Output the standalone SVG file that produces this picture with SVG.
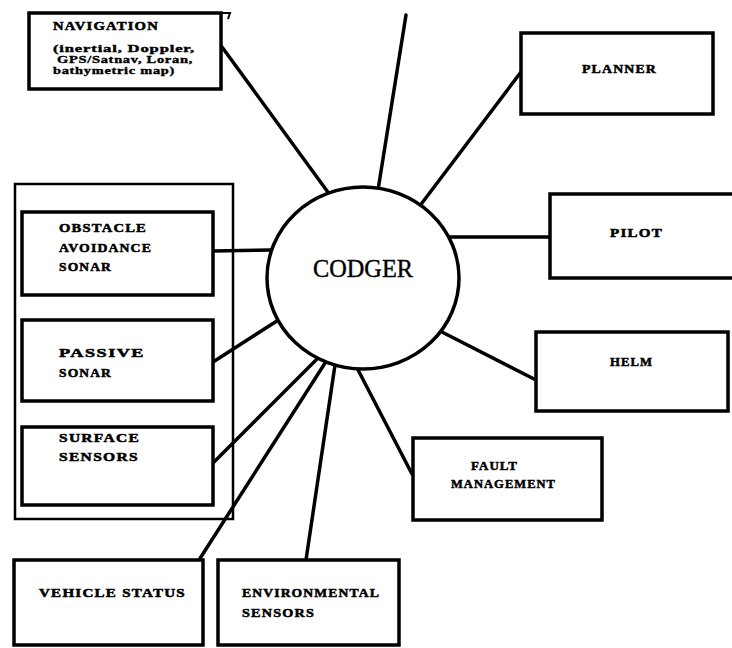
<svg xmlns="http://www.w3.org/2000/svg" width="732" height="648" viewBox="0 0 732 648">
<style>
.box{fill:#fff;stroke:#000;stroke-width:3.5}
.cont{fill:none;stroke:#000;stroke-width:2.5}
.ln{stroke:#000;stroke-width:3.5;fill:none;stroke-linecap:round}
.lbl{font-family:"Liberation Serif","Times New Roman",serif;font-weight:bold;font-size:12px;letter-spacing:1px;fill:#000;stroke:#000;stroke-width:0.5}
.sub{font-family:"Liberation Serif","Times New Roman",serif;font-weight:bold;font-size:10px;letter-spacing:0.5px;fill:#000;stroke:#000;stroke-width:0.35}
.hub{font-family:"Liberation Serif","Times New Roman",serif;font-size:25px;fill:#000;stroke:#000;stroke-width:0.4}
</style>
<rect width="732" height="648" fill="#fff"/>
<g id="container">
<rect class="cont" x="15" y="184" width="218" height="335"/>
</g>
<g id="connectors">
<line class="ln" x1="222" y1="47" x2="330" y2="195"/>
<line class="ln" x1="406" y1="15" x2="378" y2="190"/>
<line class="ln" x1="521" y1="72" x2="419" y2="207"/>
<line class="ln" x1="550" y1="237" x2="448" y2="237"/>
<line class="ln" x1="536" y1="380" x2="438" y2="330"/>
<line class="ln" x1="412" y1="474" x2="356" y2="366"/>
<line class="ln" x1="213" y1="251" x2="273" y2="250"/>
<line class="ln" x1="213" y1="362" x2="280" y2="319"/>
<line class="ln" x1="213" y1="463" x2="320" y2="356"/>
<line class="ln" x1="199" y1="560" x2="327" y2="360"/>
<line class="ln" x1="306" y1="560" x2="335" y2="365"/>
</g>
<g id="codger">
<ellipse class="box" cx="363" cy="278" rx="96" ry="91" stroke-width="3.2"/>
<text class="hub" x="313" y="277" textLength="100" lengthAdjust="spacingAndGlyphs">CODGER</text>
</g>
<g id="navigation">
<rect class="box" x="29" y="13" width="192" height="76"/>
<path d="M221 13 H230 L228 19" fill="none" stroke="#000" stroke-width="2"/>
<text class="lbl" x="53" y="30" textLength="106" lengthAdjust="spacingAndGlyphs">NAVIGATION</text>
<text class="sub" x="53" y="52" textLength="142" lengthAdjust="spacingAndGlyphs">(inertial, Doppler,</text>
<text class="sub" x="57" y="63" textLength="136" lengthAdjust="spacingAndGlyphs">GPS/Satnav, Loran,</text>
<text class="sub" x="53" y="74" textLength="122" lengthAdjust="spacingAndGlyphs">bathymetric map)</text>
</g>
<g id="planner">
<rect class="box" x="521" y="33" width="192" height="81"/>
<text class="lbl" x="582" y="73" textLength="75" lengthAdjust="spacingAndGlyphs">PLANNER</text>
</g>
<g id="pilot">
<rect class="box" x="550" y="194" width="200" height="84"/>
<text class="lbl" x="610" y="237" textLength="53" lengthAdjust="spacingAndGlyphs">PILOT</text>
</g>
<g id="helm">
<rect class="box" x="536" y="332" width="192" height="79"/>
<text class="lbl" x="610" y="366" textLength="43" lengthAdjust="spacingAndGlyphs">HELM</text>
</g>
<g id="fault">
<rect class="box" x="413" y="438" width="189" height="82"/>
<text class="lbl" x="471" y="470" textLength="47" lengthAdjust="spacingAndGlyphs">FAULT</text>
<text class="lbl" x="451" y="488" textLength="105" lengthAdjust="spacingAndGlyphs">MANAGEMENT</text>
</g>
<g id="obstacle">
<rect class="box" x="22" y="212" width="191" height="83"/>
<text class="lbl" x="59" y="232" textLength="88" lengthAdjust="spacingAndGlyphs">OBSTACLE</text>
<text class="lbl" x="59" y="252" textLength="93" lengthAdjust="spacingAndGlyphs">AVOIDANCE</text>
<text class="lbl" x="59" y="271" textLength="53" lengthAdjust="spacingAndGlyphs">SONAR</text>
</g>
<g id="passive">
<rect class="box" x="22" y="320" width="191" height="81"/>
<text class="lbl" x="59" y="357" textLength="86" lengthAdjust="spacingAndGlyphs">PASSIVE</text>
<text class="lbl" x="59" y="377" textLength="53" lengthAdjust="spacingAndGlyphs">SONAR</text>
</g>
<g id="surface">
<rect class="box" x="22" y="427" width="191" height="78"/>
<text class="lbl" x="59" y="442" textLength="81" lengthAdjust="spacingAndGlyphs">SURFACE</text>
<text class="lbl" x="59" y="461" textLength="80" lengthAdjust="spacingAndGlyphs">SENSORS</text>
</g>
<g id="vehicle">
<rect class="box" x="14" y="560" width="189" height="85"/>
<text class="lbl" x="39" y="597" textLength="147" lengthAdjust="spacingAndGlyphs">VEHICLE  STATUS</text>
</g>
<g id="environmental">
<rect class="box" x="218" y="560" width="181" height="85"/>
<text class="lbl" x="242" y="597" textLength="138" lengthAdjust="spacingAndGlyphs">ENVIRONMENTAL</text>
<text class="lbl" x="242" y="617" textLength="73" lengthAdjust="spacingAndGlyphs">SENSORS</text>
</g>
</svg>
